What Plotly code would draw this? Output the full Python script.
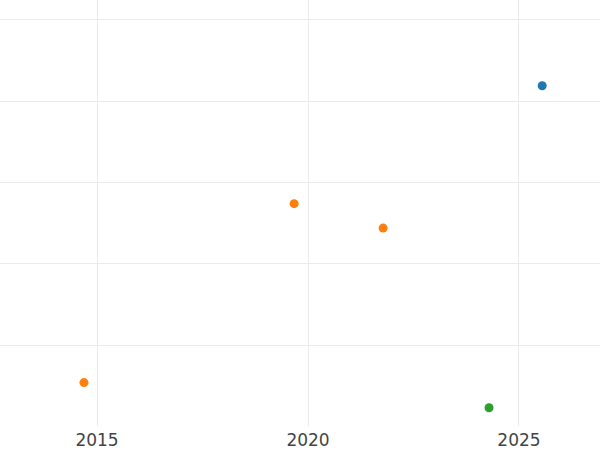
import plotly.graph_objects as go

blue_x = [2025.55]
blue_y = [41.9]
orange_x = [2014.69, 2019.67, 2021.78]
orange_y = [5.4, 27.4, 24.4]
green_x = [2024.29]
green_y = [2.3]

fig = go.Figure()
for xs, ys, c in [(blue_x, blue_y, "#1f77b4"), (orange_x, orange_y, "#ff7f0e"), (green_x, green_y, "#2ca02c")]:
    fig.add_trace(go.Scatter(x=xs, y=ys, mode="markers",
                             marker=dict(color=c, size=9), showlegend=False))

fig.update_layout(
    width=600, height=450,
    margin=dict(l=0, r=0, t=0, b=24),
    paper_bgcolor="white", plot_bgcolor="white",
    font=dict(family="DejaVu Sans", size=17, color="#444"),
)
fig.update_xaxes(range=[2012.70, 2026.92], tickvals=[2015, 2020, 2025],
                 showgrid=True, gridcolor="#EBEBEB", gridwidth=1,
                 zeroline=False, showline=False, automargin=False, ticks="",
                 ticklabelstandoff=2)
fig.update_yaxes(range=[0.06, 52.45], dtick=10, tick0=0,
                 showgrid=True, gridcolor="#EBEBEB", gridwidth=1,
                 zeroline=False, showline=False, showticklabels=False, automargin=False)

fig.write_html("out.html", config={"displayModeBar": False},
               post_script="document.body.style.margin='0';document.body.style.overflow='hidden';")
